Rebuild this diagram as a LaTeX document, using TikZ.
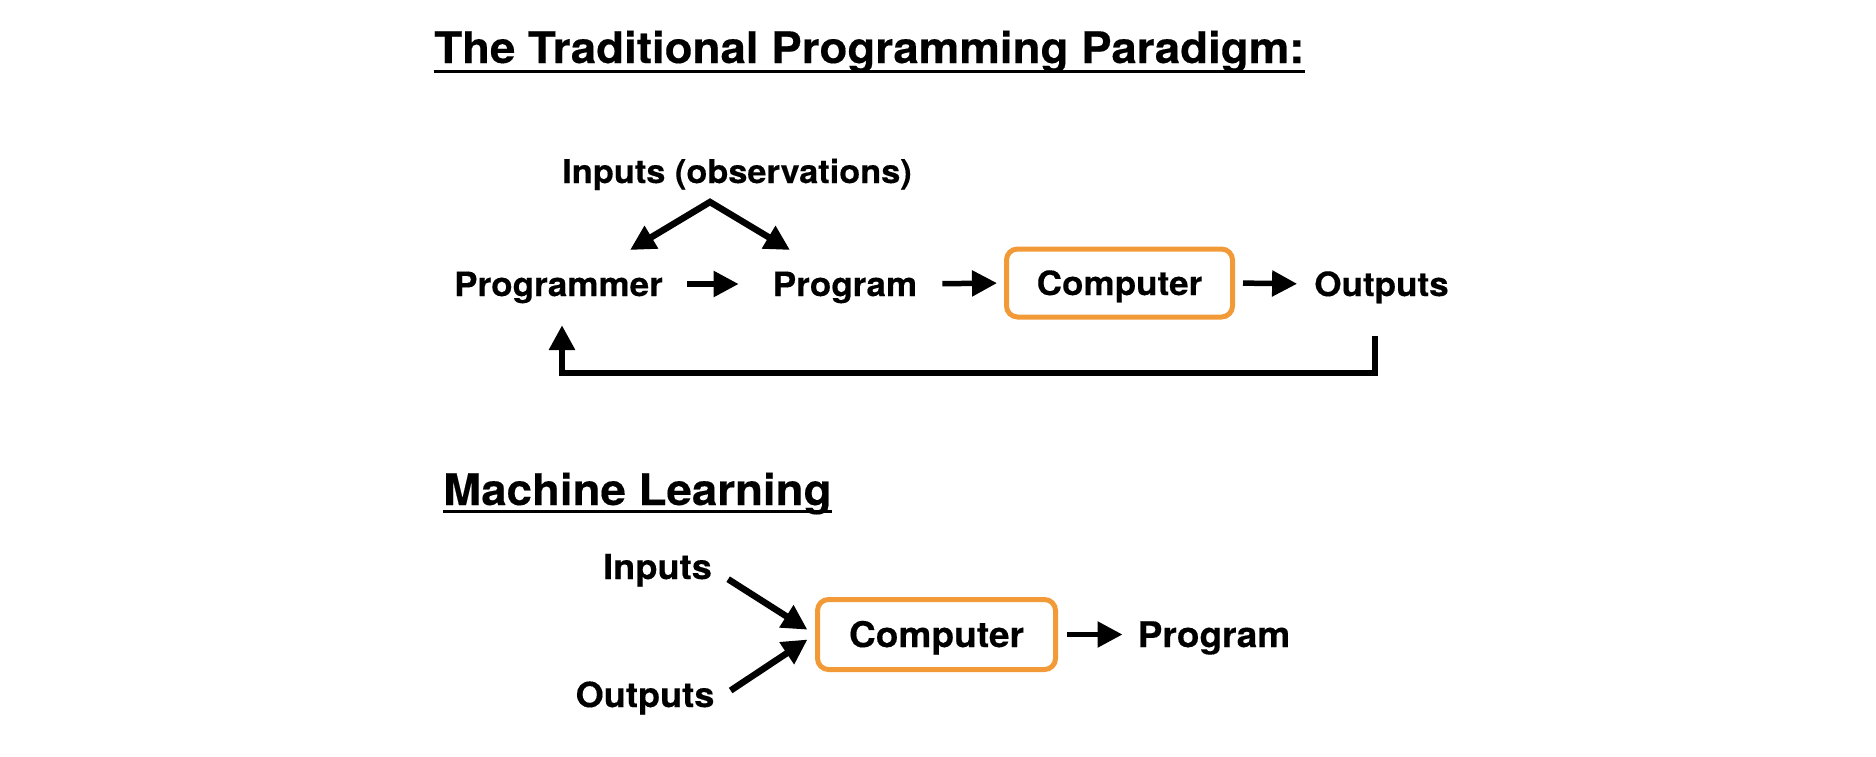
\documentclass[tikz,border=0pt]{standalone}
\usepackage{fontspec}
\setmainfont{TeX Gyre Heros}[FakeStretch=1.05, BoldFeatures={FakeBold=0.3}]
\usepackage{tikz}
\usetikzlibrary{arrows.meta}
\definecolor{boxorange}{RGB}{242,154,56}
\tikzset{
  >={Triangle[length=25pt,width=25pt]},
  head/.style={anchor=base west, inner sep=0pt, font=\fontsize{43.5}{50}\selectfont\bfseries},
  uline/.style={line width=3pt},
  lbl/.style={inner sep=0pt, text height=24pt, text depth=0pt, font=\fontsize{33.4}{40}\selectfont\bfseries},
  mllbl/.style={lbl, text height=25pt, font=\fontsize{35.3}{42}\selectfont\bfseries},
  cbox/.style={draw=boxorange, line width=5pt, rounded corners=11pt},
  flow/.style={->, line width=5.5pt},
  fatflow/.style={flow, line width=6.5pt},
}

\begin{document}
\begin{tikzpicture}[x=1pt, y=-1pt]
\useasboundingbox (0,0) rectangle (1876,756);
% traditional programming
\node[head] (ttl) at (434,63) {The Traditional Programming Paradigm:};
\draw[uline] ([yshift=-8pt]ttl.base west) -- ([yshift=-8pt]ttl.base east);
\node[anchor=base, inner sep=0pt, font=\fontsize{32.7}{38}\selectfont\bfseries] (obs) at (737,183) {Inputs (observations)};
\node[lbl] (prgr) at (558.5,284) {Programmer};
\node[lbl] (prog) at (845,284) {Program};
\node[lbl, cbox, minimum width=226pt, minimum height=68pt] (comp) at (1119.5,283) {Computer};
\node[lbl] (outp) at (1381.5,284) {Outputs};
\coordinate (apex) at (710,202);
\coordinate (toPrgr) at (630,250);
\coordinate (toProg) at (790,250);
\draw[fatflow, <->] (toPrgr) -- (apex) -- (toProg);
\draw[flow, shorten <=24pt, shorten >=34pt] (prgr.east) -- (prog.west);
\draw[flow, shorten <=25pt, shorten >=7pt] (prog.east) -- (comp.west);
\draw[flow, shorten <=8pt, shorten >=17pt] (comp.east) -- (outp.west);
\draw[fatflow, shorten <=40pt, shorten >=29pt] ([xshift=-6.5pt]outp.south) -- ++(0,77) -| ([xshift=3.5pt]prgr.south);
% machine learning
\node[head] (mlttl) at (443,505) {Machine Learning};
\draw[uline] ([yshift=-6pt]mlttl.base west) -- ([yshift=-6pt]mlttl.base east);
\node[lbl, anchor=base, font=\fontsize{34.5}{40}\selectfont\bfseries] (mlin) at (657.5,579) {Inputs};
\node[lbl, anchor=base, font=\fontsize{34.5}{40}\selectfont\bfseries] (mlout) at (645,707) {Outputs};
\node[mllbl, cbox, minimum width=238pt, minimum height=70pt] (mlcomp) at (936.5,634.5) {Computer};
\node[mllbl] (mlprog) at (1214,634.5) {Program};
\draw[flow, shorten <=9pt, shorten >=15pt] (mlcomp.east) -- (mlprog.west);
\draw[fatflow, shorten >=9pt] ([xshift=16pt]mlin.south east) -- (mlcomp.west);
\draw[fatflow, shorten >=9pt] ([xshift=16pt,yshift=4.5pt]mlout.east) -- (mlcomp.west);
\end{tikzpicture}
\end{document}
